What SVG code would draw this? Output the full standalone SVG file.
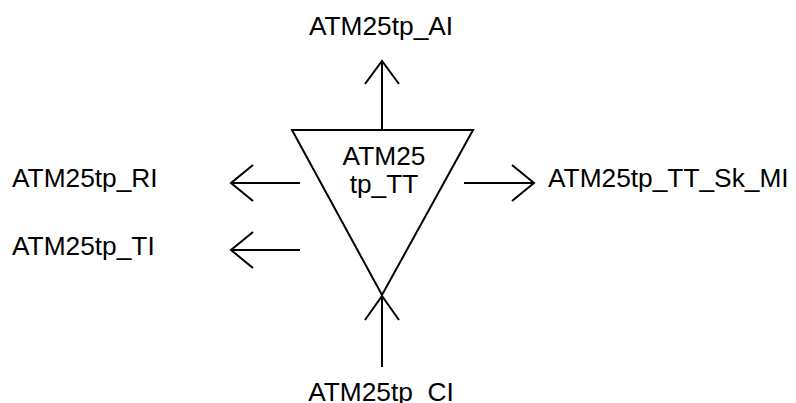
<svg xmlns="http://www.w3.org/2000/svg" width="796" height="403" viewBox="0 0 796 403">
<style>
.l{fill:none;stroke:#000;stroke-width:2;stroke-linecap:butt;stroke-linejoin:miter}
.t{font-family:"Liberation Sans",Arial,sans-serif;font-size:26.3px;fill:#000}
</style>
<rect width="796" height="403" fill="#fff"/>
<g id="node-tt">
<polygon class="l" points="292,130 473,130 382,295"/>
<text class="t" x="384" y="165" text-anchor="middle">ATM25</text>
<text class="t" x="384" y="193" text-anchor="middle">tp_TT</text>
</g>
<g id="node-ai"><text class="t" x="381" y="35" text-anchor="middle">ATM25tp_AI</text></g>
<g id="node-ri"><text class="t" x="12" y="187">ATM25tp_RI</text></g>
<g id="node-ti"><text class="t" x="12" y="255">ATM25tp_TI</text></g>
<g id="node-mi"><text class="t" x="548" y="187">ATM25tp_TT_Sk_MI</text></g>
<g id="node-ci"><text class="t" x="381" y="401" text-anchor="middle">ATM25tp_CI</text></g>
<g id="connectors">
<path class="l" d="M382,130 V61 M365,84 L382,61 L399,84"/>
<path class="l" d="M300,183 H231 M253,165 L231,183 L253,201"/>
<path class="l" d="M300,250 H231 M253,232 L231,250 L253,268"/>
<path class="l" d="M464,183 H534 M512,165 L534,183 L512,201"/>
<path class="l" d="M382,367 V296 M365,320 L382,296 L399,320"/>
</g>
</svg>
